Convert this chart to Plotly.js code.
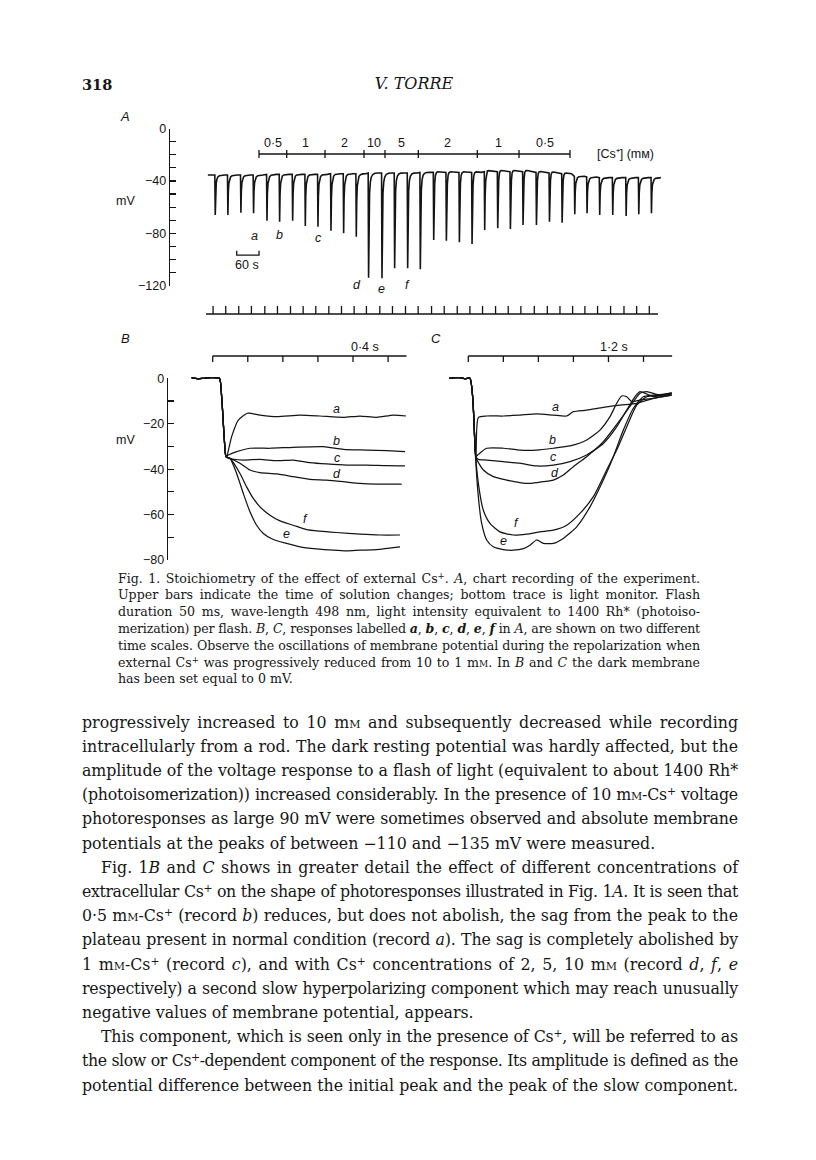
<!DOCTYPE html>
<html>
<head>
<meta charset="utf-8">
<script src="https://cdn.plot.ly/plotly-3.0.1.min.js"></script>
<style>
  body { margin: 0; background: #fff; }
  #pagina { position: relative; width: 816px; height: 1160px; overflow: hidden; background: #fff; }
  #grafica { position: absolute; left: 0; top: 0; width: 816px; height: 1160px; }
  .linea { position: absolute; font-family: "DejaVu Serif", serif; color: #161616; }
  .sc { font-variant: small-caps; }
  sup { font-size: 0.68em; line-height: 0; vertical-align: 0.5em; }
</style>
</head>
<body><div id="pagina"><div id="grafica"></div></div>
<script>
// ---------- datos panel A (registro continuo) ----------
// tiempos de los destellos (s) y picos de cada respuesta (mV)
const aFlashT = [24, 58, 93, 127, 163, 197, 232, 266, 300, 335, 369, 403, 436, 472, 506, 541, 575, 611,
                 645, 680, 714, 748, 783, 817, 851, 887, 922, 956, 990, 1023, 1057, 1092, 1128, 1162, 1196];
const aPeak = [-66, -66, -64.3, -64.7, -70.4, -71.1, -70.4, -74.4, -75, -78, -80, -82.6, -113.9, -114.4,
               -106.7, -106.7, -107.5, -85.1, -85.6, -86.9, -88.2, -77.5, -76.2, -76.7, -73.7, -73.7,
               -71.1, -71.9, -65.5, -64.7, -66, -66, -66.8, -65.5, -64.7];
// potencial de reposo antes de cada destello (mV) y sobreoscilacion tras la respuesta (mV)
const aBase = [-35.5, -35.5, -35.5, -35.5, -35, -35, -35, -35, -35, -34.5, -34.5, -34.5, -34, -34, -34, -34,
               -33.5, -33.5, -33.5, -33.5, -33.5, -33, -33, -33, -33, -33.5, -34, -34.5, -36.5, -37, -37.5,
               -37.5, -37.5, -37.5, -37.5];
const aOver = [0, 0, 0, 0, 0, 0.5, 0.5, 0.5, 0.5, 0.5, 0.5, 0.5, 1, 1, 1.5, 1.5, 1.5, 3, 3, 3, 3, 3.5, 3.5,
               3.5, 3.5, 3, 3, 2.5, 0.5, 0, 0, 0, 0, 0, 0];
const respDt    = [-0.3, 0.8, 2.0, 3.5, 5.5, 8, 12, 18, 26];
const respDepth = [0, 1, 0.42, 0.2, 0.1, 0.05, 0.02, 0.005, 0];
const respOver  = [0, 0, 0, 0.6, 1, 0.8, 0.5, 0.2, 0];
const aTraceStart = 5, aTraceEnd = 1220;
const monitorStart = 0, monitorEnd = 1214.5, monitorOffset = -5;
// barras de cambio de solucion
const concEdges = [142.4, 216.8, 319.7, 424.5, 480.9, 570.4, 728.9, 841.0, 978.0];
const concLabels = ['0·5', '1', '2', '10', '5', '2', '1', '0·5'];
const scaleBarSec = 60, scaleBarStart = 82.5;

// ---------- datos paneles B y C ----------
const bOnsetT = [-0.24, -0.17, -0.107, -0.03, 0.076, 0.102, 0.133, 0.152];
const bOnsetV = [0.3, -0.2, 0, 0.3, 0, -8.1, -27.2, -34.5];
const bCurves = {
  a: { t: [0.159, 0.216, 0.292, 0.395, 0.539, 0.729, 0.995, 1.223, 1.489, 1.679, 1.869, 2.06, 2.204],
       v: [-34.5, -25.7, -18.4, -15.4, -16.2, -16.9, -16.2, -16.6, -17.2, -16.6, -17.2, -16.2, -16.6] },
  b: { t: [0.178, 0.273, 0.425, 0.653, 0.919, 1.261, 1.489, 1.755, 1.983, 2.193],
       v: [-33.8, -32.3, -30.8, -30.8, -30.4, -30.1, -31.3, -31.6, -31.9, -32.3] },
  c: { t: [0.178, 0.349, 0.539, 0.729, 0.919, 1.109, 1.299, 1.527, 1.755, 1.983, 2.193],
       v: [-35.2, -36.0, -35.7, -36.3, -36.0, -37.1, -37.7, -38.2, -38.2, -38.5, -38.6] },
  d: { t: [0.197, 0.311, 0.425, 0.539, 0.729, 0.919, 1.109, 1.299, 1.489, 1.679, 1.869, 2.155],
       v: [-35.2, -37.4, -40.4, -41.5, -42.1, -43.3, -44.5, -44.8, -45.5, -46.3, -46.6, -46.6] },
  e: { t: [0.197, 0.273, 0.349, 0.425, 0.501, 0.577, 0.691, 0.843, 0.995, 1.185, 1.375, 1.527, 1.679, 1.869, 2.136],
       v: [-35.2, -41.9, -50.7, -58.8, -64.7, -68.3, -71.0, -72.7, -74.2, -75.1, -75.7, -76.0, -75.7, -75.4, -74.2] },
  f: { t: [0.197, 0.311, 0.387, 0.463, 0.539, 0.653, 0.767, 0.919, 1.071, 1.223, 1.413, 1.679, 1.907, 2.136],
       v: [-35.2, -41.9, -47.8, -52.9, -56.6, -60.3, -62.8, -64.7, -66.6, -67.3, -67.9, -68.6, -69.0, -69.0] }
};
const cOnsetT = [-0.649, -0.45, -0.284, -0.1, 0.058, 0.149, 0.207, 0.229];
const cOnsetV = [0, 0.3, 0.3, -0.2, 0, -8.1, -22.8, -30.1];
const cCurves = {
  a: { t: [0.264, 0.344, 0.629, 1.2, 1.771, 2.342, 2.912, 3.368, 3.597, 4.054, 4.624, 5.195, 5.767, 6.338, 6.965],
       v: [-34.4, -17.3, -16.6, -16.6, -16.2, -15.7, -16.2, -16.6, -14.7, -14.0, -12.8, -11.8, -11.0, -8.8, -7.4] },
  b: { t: [0.264, 0.344, 0.629, 1.2, 1.771, 2.342, 2.912, 3.483, 4.054, 4.51, 4.853, 5.081, 5.253, 5.424, 5.596, 5.881, 6.338, 6.965],
       v: [-34.4, -33.5, -30.8, -30.8, -31.6, -31.6, -30.8, -29.8, -27.2, -22.8, -16.9, -11.0, -7.8, -8.1, -10.3, -9.6, -8.8, -7.4] },
  c: { t: [0.264, 0.344, 0.629, 1.2, 1.771, 2.342, 2.912, 3.483, 4.054, 4.624, 5.081, 5.424, 5.71, 5.881, 6.11, 6.338, 6.965],
       v: [-34.7, -35.7, -36.0, -36.7, -37.4, -38.6, -38.2, -36.7, -33.8, -28.7, -21.4, -14.0, -8.1, -5.9, -6.9, -8.1, -6.9] },
  d: { t: [0.264, 0.515, 0.857, 1.314, 1.771, 2.113, 2.57, 2.912, 3.254, 3.597, 4.054, 4.624, 5.195, 5.653, 5.881, 6.11, 6.566, 6.965],
       v: [-35.0, -40.4, -43.3, -44.8, -45.9, -46.3, -45.5, -44.8, -42.6, -38.9, -34.5, -27.9, -18.4, -10.3, -6.6, -5.9, -7.4, -6.6] },
  e: { t: [0.344, 0.458, 0.629, 0.857, 1.2, 1.542, 1.885, 2.113, 2.342, 2.57, 2.912, 3.254, 3.711, 4.168, 4.624, 4.967, 5.31, 5.653, 5.995, 6.338, 6.965],
       v: [-52.1, -63.9, -71.2, -74.2, -75.4, -75.7, -75.0, -73.5, -71.2, -72.7, -72.7, -70.5, -65.4, -56.6, -44.8, -34.5, -22.8, -13.2, -8.1, -7.4, -6.6] },
  f: { t: [0.344, 0.515, 0.743, 1.086, 1.542, 1.999, 2.456, 2.912, 3.368, 3.825, 4.282, 4.738, 5.081, 5.424, 5.767, 6.11, 6.566, 6.965],
       v: [-46.3, -58.1, -63.9, -67.6, -69.0, -68.6, -67.6, -66.9, -64.7, -59.5, -52.1, -40.4, -31.6, -21.4, -11.8, -8.1, -7.4, -6.3] }
};
const bBarTicks = [0, 0.4, 0.8, 1.2, 1.6, 2.0], bBarEnd = 2.21;
const cBarTicks = [0, 1.2, 2.4, 3.6, 4.8, 6.0], cBarEnd = 6.98;

// ---------- geometria de la pagina (pixeles) ----------
const W = 816, H = 1160;
const fx = px => px / W;
const fy = py => 1 - py / H;
const tinta = '#141414';
const sans = 'Liberation Sans, Arial, sans-serif';

// escala temporal de A: 0 s en x=206 px, 0.3722 px/s
const aX0 = 206, aPxS = 0.3722;
const bX0 = 212.7, bPxS = 87.7;
const cX0 = 468.3, cPxS = 29.2;
const bcY0 = 378.3, bcPxMv = 2.271;

// ---------- construir trazos ----------
const aX = [aTraceStart], aY = [aBase[0]];
aFlashT.forEach((T, k) => {
  respDt.forEach((dt, j) => {
    aX.push(T + dt);
    aY.push(aBase[k] + respDepth[j] * (aPeak[k] - aBase[k]) + respOver[j] * aOver[k]);
  });
});
aX.push(aTraceEnd); aY.push(aBase[aBase.length - 1]);

const monX = [monitorStart], monY = [0];
aFlashT.forEach(T => { monX.push(T + monitorOffset, T + monitorOffset, T + monitorOffset); monY.push(0, 1, 0); });
monX.push(monitorEnd); monY.push(0);

const concX = [concEdges[0], concEdges[concEdges.length - 1], null], concY = [0, 0, null];
concEdges.forEach(e => { concX.push(e, e, null); concY.push(-1, 1, null); });

function barraTiempo(ticks, fin) {
  const x = [0, fin, null], y = [0, 0, null];
  ticks.forEach(t => { x.push(t, t, null); y.push(0, -0.75, null); });
  return { x, y };
}
const bBar = barraTiempo(bBarTicks, bBarEnd);
const cBar = barraTiempo(cBarTicks, cBarEnd);

const linea = (w) => ({ color: tinta, width: w });
const trazas = [
  { x: aX, y: aY, xaxis: 'x', yaxis: 'y', mode: 'lines', line: linea(1.6) },
  { x: [scaleBarStart, scaleBarStart, scaleBarStart + scaleBarSec, scaleBarStart + scaleBarSec],
    y: [-93.3, -96.6, -96.6, -93.3], xaxis: 'x', yaxis: 'y', mode: 'lines', line: linea(1.3) },
  { x: concX, y: concY, xaxis: 'x', yaxis: 'y2', mode: 'lines', line: linea(1.3) },
  { x: monX, y: monY, xaxis: 'x', yaxis: 'y3', mode: 'lines', line: linea(1.3) },
  { x: [], y: [], xaxis: 'x2', yaxis: 'y4', mode: 'lines' },
  { x: bBar.x, y: bBar.y, xaxis: 'x2', yaxis: 'y5', mode: 'lines', line: linea(1.3) },
  { x: cBar.x, y: cBar.y, xaxis: 'x3', yaxis: 'y5', mode: 'lines', line: linea(1.3) }
];
Object.keys(bCurves).forEach(k => {
  trazas.push({ x: bOnsetT.concat(bCurves[k].t), y: bOnsetV.concat(bCurves[k].v),
    xaxis: 'x2', yaxis: 'y6', mode: 'lines', line: { color: tinta, width: 1.25, shape: 'spline', smoothing: 0.6 } });
});
Object.keys(cCurves).forEach(k => {
  trazas.push({ x: cOnsetT.concat(cCurves[k].t), y: cOnsetV.concat(cCurves[k].v),
    xaxis: 'x3', yaxis: 'y6', mode: 'lines', line: { color: tinta, width: 1.25, shape: 'spline', smoothing: 0.6 } });
});
trazas.forEach(t => { t.hoverinfo = 'skip'; t.showlegend = false; });

// ---------- ejes ----------
const ejeOculto = { visible: false, fixedrange: true };
const ejeMv = (mayor) => ({
  showline: true, linecolor: tinta, linewidth: 1.3, ticks: 'inside', ticklen: 6, tickwidth: 1.2,
  tickcolor: tinta, tickmode: 'linear', tick0: 0, dtick: mayor, showgrid: false, zeroline: false,
  minor: { ticks: 'inside', tick0: 0, dtick: 10, ticklen: 6, tickwidth: 1.2, tickcolor: tinta, showgrid: false },
  tickfont: { family: sans, size: 12.5, color: tinta }, fixedrange: true
});

// ---------- textos de la figura ----------
const notas = [];
function nota(texto, px, py, size, extra) {
  notas.push(Object.assign({ text: texto, x: fx(px), y: fy(py), xref: 'paper', yref: 'paper',
    xanchor: 'center', yanchor: 'middle', showarrow: false,
    font: { family: sans, size: size, color: tinta } }, extra || {}));
}
nota('<i>A</i>', 125, 117, 13);
nota('<i>B</i>', 125, 338, 13);
nota('<i>C</i>', 436, 338, 13);
nota('mV', 125, 201, 12.5);
nota('mV', 125, 440, 12.5);
concLabels.forEach((lab, i) => {
  notas.push({ text: lab, x: (concEdges[i] + concEdges[i + 1]) / 2, xref: 'x', y: fy(143), yref: 'paper',
    xanchor: 'center', yanchor: 'middle', showarrow: false, font: { family: sans, size: 12.5, color: tinta } });
});
nota('[Cs⁺] (mᴍ)', 625, 154, 12.5);
nota('60 s', 247.5, 265, 12.5);
const letrasA = [['a', 254, 236], ['b', 279, 235], ['c', 318, 238], ['d', 357, 285], ['e', 381.5, 289], ['f', 407, 285]];
const letrasB = [['a', 336, 409], ['b', 336.7, 441], ['c', 337.7, 458], ['d', 336.7, 474], ['f', 305.7, 519], ['e', 286, 534]];
const letrasC = [['a', 555, 407], ['b', 552.7, 440], ['c', 553.3, 457], ['d', 555, 473], ['f', 516.7, 523], ['e', 503.3, 541]];
letrasA.concat(letrasB, letrasC).forEach(l => nota('<i>' + l[0] + '</i>', l[1], l[2], 12.5));
nota('0·4 s', 365, 347, 12.5);
nota('1·2 s', 614, 347, 12.5);

const layout = {
  width: W, height: H, margin: { l: 0, r: 0, t: 0, b: 0 },
  paper_bgcolor: '#ffffff', plot_bgcolor: 'rgba(0,0,0,0)', showlegend: false,
  font: { family: sans, color: tinta },
  xaxis: Object.assign({}, ejeOculto, { domain: [fx(170), fx(672)], anchor: 'y',
    range: [(170 - aX0) / aPxS, (672 - aX0) / aPxS] }),
  yaxis: Object.assign(ejeMv(40), { domain: [fy(285.7), fy(128.5)], range: [-120, 0], anchor: 'x' }),
  yaxis2: Object.assign({}, ejeOculto, { domain: [fy(160), fy(148)], range: [-1.5, 1.5], anchor: 'x' }),
  yaxis3: Object.assign({}, ejeOculto, { domain: [fy(316), fy(300)], range: [-0.25, 1.75], anchor: 'x' }),
  xaxis2: Object.assign({}, ejeOculto, { domain: [fx(168), fx(420)], anchor: 'y4',
    range: [(168 - bX0) / bPxS, (420 - bX0) / bPxS] }),
  yaxis4: Object.assign(ejeMv(20), { domain: [fy(560), fy(bcY0)], range: [-80, 0], anchor: 'x2' }),
  yaxis5: Object.assign({}, ejeOculto, { domain: [fy(364), fy(352)], range: [-1, 0.5], anchor: 'x2' }),
  yaxis6: Object.assign({}, ejeOculto, { domain: [fy(570), fy(360)], anchor: 'x2',
    range: [-(570 - bcY0) / bcPxMv, (bcY0 - 360) / bcPxMv] }),
  xaxis3: Object.assign({}, ejeOculto, { domain: [fx(440), fx(690)], anchor: 'y6',
    range: [(440 - cX0) / cPxS, (690 - cX0) / cPxS] }),
  annotations: notas
};

Plotly.newPlot('grafica', trazas, layout, { staticPlot: true, displayModeBar: false });

// ---------- texto de la pagina ----------
const mm = 'm<span class="sc">m</span>';
const cs = 'Cs<sup>+</sup>';
const cabecera = [
  { html: '<b>318</b>', left: 82, width: 60, base: 90, fs: 14.5, align: 'left' },
  { html: '<i>V. TORRE</i>', left: 314, width: 200, base: 90, fs: 16, align: 'center' }
];
const leyenda = [
  'Fig. 1. Stoichiometry of the effect of external ' + cs + '. <i>A</i>, chart recording of the experiment.',
  'Upper bars indicate the time of solution changes; bottom trace is light monitor. Flash',
  'duration 50 ms, wave-length 498 nm, light intensity equivalent to 1400 Rh* (photoiso-',
  'merization) per flash. <i>B</i>, <i>C</i>, responses labelled <b><i>a</i></b>, <b><i>b</i></b>, <b><i>c</i></b>, <b><i>d</i></b>, <b><i>e</i></b>, <b><i>f</i></b> in <i>A</i>, are shown on two different',
  'time scales. Observe the oscillations of membrane potential during the repolarization when',
  'external ' + cs + ' was progressively reduced from 10 to 1 ' + mm + '. In <i>B</i> and <i>C</i> the dark membrane',
  'has been set equal to 0 mV.'
];
const cuerpo = [
  ['progressively increased to 10 ' + mm + ' and subsequently decreased while recording', 1, 0],
  ['intracellularly from a rod. The dark resting potential was hardly affected, but the', 1, 0],
  ['amplitude of the voltage response to a flash of light (equivalent to about 1400 Rh*', 1, 0],
  ['(photoisomerization)) increased considerably. In the presence of 10 ' + mm + '-' + cs + ' voltage', 1, 0],
  ['photoresponses as large 90 mV were sometimes observed and absolute membrane', 1, 0],
  ['potentials at the peaks of between −110 and −135 mV were measured.', 0, 0],
  ['Fig. 1<i>B</i> and <i>C</i> shows in greater detail the effect of different concentrations of', 1, 1],
  ['extracellular ' + cs + ' on the shape of photoresponses illustrated in Fig. 1<i>A</i>. It is seen that', 1, 0],
  ['0·5 ' + mm + '-' + cs + ' (record <i>b</i>) reduces, but does not abolish, the sag from the peak to the', 1, 0],
  ['plateau present in normal condition (record <i>a</i>). The sag is completely abolished by', 1, 0],
  ['1 ' + mm + '-' + cs + ' (record <i>c</i>), and with ' + cs + ' concentrations of 2, 5, 10 ' + mm + ' (record <i>d</i>, <i>f</i>, <i>e</i>', 1, 0],
  ['respectively) a second slow hyperpolarizing component which may reach unusually', 1, 0],
  ['negative values of membrane potential, appears.', 0, 0],
  ['This component, which is seen only in the presence of ' + cs + ', will be referred to as', 1, 1],
  ['the slow or ' + cs + '-dependent component of the response. Its amplitude is defined as the', 1, 0],
  ['potential difference between the initial peak and the peak of the slow component.', 1, 0]
];

const pagina = document.getElementById('pagina');
function ponerLinea(html, left, width, base, fs, align, indent) {
  const d = document.createElement('div');
  d.className = 'linea';
  d.style.left = left + 'px';
  d.style.width = width + 'px';
  d.style.fontSize = fs + 'px';
  d.style.lineHeight = fs + 'px';
  d.style.top = (base - 0.846 * fs) + 'px';
  d.style.paddingLeft = (indent || 0) + 'px';
  d.style.boxSizing = 'border-box';
  d.style.whiteSpace = 'nowrap';
  const s = document.createElement('span');
  s.innerHTML = html;
  d.appendChild(s);
  pagina.appendChild(d);
  // si la linea no cabe, se aprieta el espaciado entre letras
  const libre = width - (indent || 0);
  const ancho = s.getBoundingClientRect().width;
  if (ancho > libre - 2) {
    d.style.letterSpacing = (-(ancho - libre + 4) / s.textContent.length) + 'px';
  }
  d.style.whiteSpace = 'normal';
  d.style.textAlign = align === 'justify' ? 'justify' : align;
  if (align === 'justify') d.style.textAlignLast = 'justify';
}
cabecera.forEach(c => ponerLinea(c.html, c.left, c.width, c.base, c.fs, c.align, 0));
leyenda.forEach((l, i) => ponerLinea(l, 118, 582, 583.3 + 16.8 * i, 12.6, i < leyenda.length - 1 ? 'justify' : 'left', 0));
cuerpo.forEach((l, i) => ponerLinea(l[0], 82, 656, 728 + 24.2 * i, 15.8, l[1] ? 'justify' : 'left', l[2] ? 19 : 0));
</script>
</body>
</html>
